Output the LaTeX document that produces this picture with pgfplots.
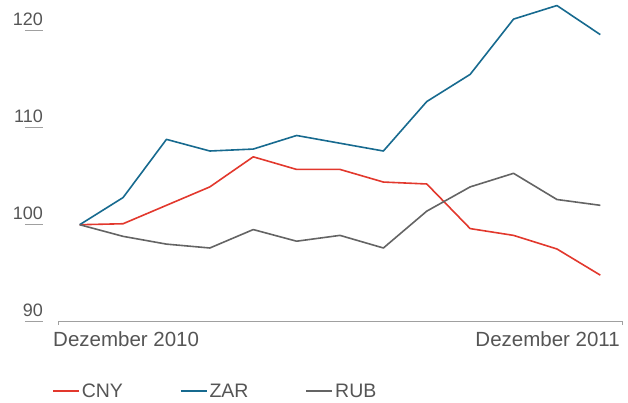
\documentclass[border=0pt]{standalone}
\usepackage{fontspec}
\setmainfont{Liberation Sans}
\usepackage{pgfplots}
\pgfplotsset{compat=1.18}
\definecolor{cny}{HTML}{E2382D}
\definecolor{zar}{HTML}{176A8F}
\definecolor{rub}{HTML}{646464}
\definecolor{txt}{HTML}{555555}
\definecolor{axl}{HTML}{A0A0A0}
\begin{document}
\begin{tikzpicture}[font=\fontsize{18}{21}\selectfont]
\begin{axis}[name=ax, scale only axis, width=564pt, height=321.7pt,
  xmin=-0.5, xmax=12.5, ymin=90, ymax=123.17,
  axis line style={draw=none}, tick style={draw=none},
  xtick=\empty, ytick={90,100,110,120},
  /pgf/number format/assume math mode=true,
  yticklabel style={anchor=base east, inner sep=0pt, xshift=-15pt, yshift=5pt, text=txt, font=\fontsize{18}{21}\selectfont},
  clip=false,
  legend columns=3,
  legend style={at={(axis description cs:0,0)}, anchor=west, xshift=-6pt, yshift=-69.5pt,
    draw=none, fill=none, inner sep=0pt, font=\fontsize{19.5}{22}\selectfont, text=txt,
    /tikz/every even column/.append style={column sep=55pt}},
  legend cell align=left,
  legend image code/.code={\path (0pt,0pt) -- (26pt,0pt); \draw[#1, line width=1.6pt] (0pt,0pt) -- (20pt,0pt);},
  every axis plot/.append style={line width=1.6pt, line join=round},
]
\addplot[cny] coordinates {(0,100)(1,100.1)(2,102.0)(3,103.9)(4,107.0)(5,105.7)(6,105.7)(7,104.4)(8,104.2)(9,99.6)(10,98.9)(11,97.5)(12,94.8)};
\addlegendentry{CNY}
\addplot[zar] coordinates {(0,100)(1,102.8)(2,108.8)(3,107.6)(4,107.8)(5,109.2)(6,108.4)(7,107.6)(8,112.7)(9,115.5)(10,121.2)(11,122.6)(12,119.6)};
\addlegendentry{ZAR}
\addplot[rub] coordinates {(0,100)(1,98.8)(2,98.0)(3,97.6)(4,99.5)(5,98.3)(6,98.9)(7,97.6)(8,101.4)(9,103.9)(10,105.3)(11,102.6)(12,102.0)};
\addlegendentry{RUB}
\draw[axl, line width=0.8pt] ([yshift=-3.5pt]rel axis cs:0,0) -- (rel axis cs:0,0) -- (rel axis cs:1,0) -- ([yshift=-3.5pt]rel axis cs:1,0);
\pgfplotsinvokeforeach{90,100,110,120}{
  \draw[axl, line width=0.8pt] ([xshift=-33pt]axis cs:-0.5,#1) -- ([xshift=-15pt]axis cs:-0.5,#1);
}
\node[anchor=base west, inner sep=0pt, text=txt, font=\fontsize{20.5}{23}\selectfont] at ([xshift=-5pt,yshift=-24.5pt]rel axis cs:0,0) {Dezember 2010};
\node[anchor=base east, inner sep=0pt, text=txt, font=\fontsize{20.5}{23}\selectfont] at ([xshift=-2pt,yshift=-24.5pt]rel axis cs:1,0) {Dezember 2011};
\end{axis}
\pgfresetboundingbox
\path ([xshift=-58pt,yshift=-80.3pt]ax.south west) rectangle ([xshift=6pt]ax.north east);
\end{tikzpicture}
\end{document}
